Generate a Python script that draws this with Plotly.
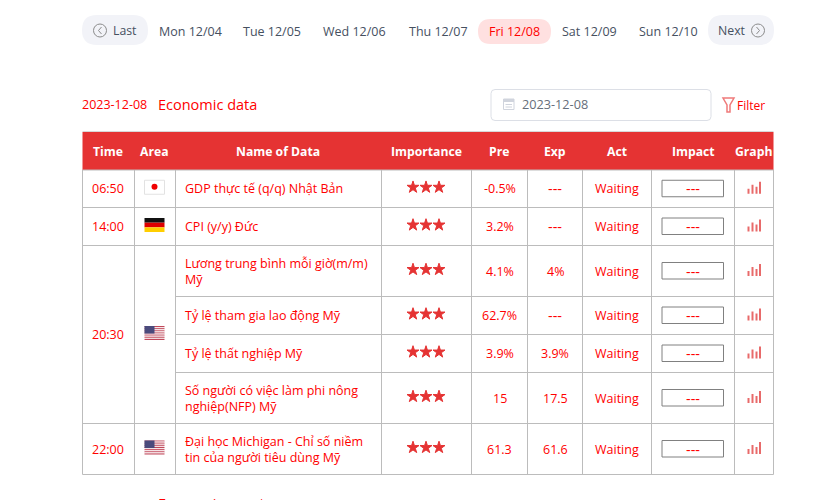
# lich kinh te - bang du lieu ngay 2023-12-08
import plotly.graph_objects as go

nav_days = ["Mon 12/04", "Tue 12/05", "Wed 12/06", "Thu 12/07", "Fri 12/08", "Sat 12/09", "Sun 12/10"]
headers = ["Time", "Area", "Name of Data", "Importance", "Pre", "Exp", "Act", "Impact", "Graph"]
time_labels = ["06:50", "14:00", "20:30", "22:00"]
time_spans = [1, 1, 4, 1]
area_flags = ["JP", "DE", "US", "US"]
names = ["GDP thực tế (q/q) Nhật Bản",
         "CPI (y/y) Đức",
         "Lương trung bình mỗi giờ(m/m)<br>Mỹ",
         "Tỷ lệ tham gia lao động Mỹ",
         "Tỷ lệ thất nghiệp Mỹ",
         "Số người có việc làm phi nông<br>nghiệp(NFP) Mỹ",
         "Đại học Michigan - Chỉ số niềm<br>tin của người tiêu dùng Mỹ"]
importance = [3, 3, 3, 3, 3, 3, 3]
pre = ["-0.5%", "3.2%", "4.1%", "62.7%", "3.9%", "15", "61.3"]
exp = ["---", "---", "4%", "---", "3.9%", "17.5", "61.6"]
act = ["Waiting", "Waiting", "Waiting", "Waiting", "Waiting", "Waiting", "Waiting"]
impact = ["---", "---", "---", "---", "---", "---", "---"]

# layout of the page, in screen pixels
col_edges = [82.5, 134.5, 175.5, 381.5, 471.5, 527.5, 582.5, 651.5, 734.5, 773.5]
row_edges = [170, 207.5, 245.5, 296.5, 334.5, 372.5, 423.5, 474.5]
nav_x = [190.3, 272, 354.5, 438.5, 514.5, 589.3, 668.3]
head_x = [107.5, 154, 277.5, 426.5, 499, 554.5, 617, 693, 753.5]
RED = "#ff0000"
HEAD = "#e53333"
GRID = "#bcbcbc"
NAV = "#46505f"
FONT = "Open Sans, Noto Sans, sans-serif"

fig = go.Figure()
shapes = []
notes = []


def text(x, y, s, color=RED, size=12.5, anchor="center", bold=False, valign="middle"):
    if bold:
        s = "<b>" + s + "</b>"
    notes.append(dict(x=x, y=y, text=s, showarrow=False, xanchor=anchor, yanchor=valign, align=anchor,
                      font=dict(family=FONT, size=size, color=color), borderpad=0))


def dash_or_text(x, y, s):
    # the dashes are wider in the reference font
    text(x, y, s, size=14.5 if s == "---" else 12.5)


def rect(x0, y0, x1, y1, fill=None, line=None, width=1):
    shapes.append(dict(type="rect", x0=x0, y0=y0, x1=x1, y1=y1, fillcolor=fill or "rgba(0,0,0,0)",
                       line=dict(color=line, width=width if line else 0)))


def rounded(x0, y0, x1, y1, r, fill=None, line=None):
    path = (f"M{x0+r},{y0} L{x1-r},{y0} Q{x1},{y0} {x1},{y0+r} L{x1},{y1-r} Q{x1},{y1} {x1-r},{y1} "
            f"L{x0+r},{y1} Q{x0},{y1} {x0},{y1-r} L{x0},{y0+r} Q{x0},{y0} {x0+r},{y0} Z")
    shapes.append(dict(type="path", path=path, fillcolor=fill or "rgba(0,0,0,0)",
                       line=dict(color=line, width=1 if line else 0)))


def seg(x0, y0, x1, y1, color=GRID, width=1):
    shapes.append(dict(type="line", x0=x0, y0=y0, x1=x1, y1=y1, line=dict(color=color, width=width)))


def flag(kind, cx, cy):
    x0, x1 = cx - 10, cx + 10
    y0, y1 = cy - 7, cy + 7
    if kind == "JP":
        rect(x0, y0, x1, y1, "#ffffff", "#e2e2e2")
        shapes.append(dict(type="circle", x0=cx-3, y0=cy-3.5, x1=cx+3, y1=cy+2.5, fillcolor="#f00000", line=dict(width=0)))
    elif kind == "DE":
        band = (y1 - y0) / 3
        for i, c in enumerate(["#111111", "#dd0000", "#ffce00"]):
            rect(x0, y0 + i * band, x1, y0 + (i + 1) * band, c)
    else:
        stripe = (y1 - y0) / 13
        for i in range(13):
            rect(x0, y0 + i * stripe, x1, y0 + (i + 1) * stripe, "#c0485a" if i % 2 == 0 else "#f6e6e8")
        rect(x0, y0, x0 + 10, y0 + 7 * stripe, "#4a4a7c")


# top navigation
rounded(82, 15, 148, 45, 15, "#f2f3f8")
rounded(708, 15, 774, 45, 15, "#f2f3f8")
rounded(478, 19, 551, 44, 12.5, "#ffe0e0")
for cx in (100, 758):
    shapes.append(dict(type="circle", x0=cx-6.5, y0=24, x1=cx+6.5, y1=37, line=dict(color="#8c8c8c", width=1)))
seg(101.5, 27, 98.5, 30.5, "#8c8c8c")
seg(98.5, 30.5, 101.5, 34, "#8c8c8c")
seg(756.5, 27, 759.5, 30.5, "#8c8c8c")
seg(759.5, 30.5, 756.5, 34, "#8c8c8c")
text(124.5, 30.5, "Last", NAV, 12.3)
text(732, 30.5, "Next", NAV, 12.3)
for x, d in zip(nav_x, nav_days):
    text(x, 31.5, d, RED if d == "Fri 12/08" else NAV, 12.5)

# title row
text(80.7, 104.5, "2023-12-08", RED, 12.5, "left")
text(156.7, 104, "Economic data", RED, 14.5, "left")
rounded(491, 89.5, 711, 120.5, 4, "#ffffff", "#dcdfe6")
rect(503.5, 99, 514, 109.5, None, "#d0d4dd")
rect(503.5, 99, 514, 102, "#d0d4dd")
for gy in (104.5, 107):
    seg(505.5, gy, 512, gy, "#d0d4dd")
text(521, 104, "2023-12-08", "#666e7a", 12.7, "left")
shapes.append(dict(type="path", path="M723,98 L734,98 L730,105 L730,112 L727,112 L727,105 Z",
                   fillcolor="rgba(0,0,0,0)", line=dict(color="#ef7a7a", width=1.5)))
text(736, 105, "Filter", RED, 12, "left")

# header band
seg(col_edges[0], 131.5, col_edges[-1], 131.5, "#d8d8d8")
rect(col_edges[0], 132, col_edges[-1], 170, HEAD)
for x, h in zip(head_x, headers):
    text(x, 151.5, h, "#ffffff", 12.2, bold=True)

# grid
for x in col_edges:
    seg(x, 170, x, row_edges[-1])
for j, y in enumerate(row_edges):
    seg(col_edges[2] if y in (296.5, 334.5, 372.5) else col_edges[0], y, col_edges[-1], y)

# time and area merged columns
start = 0
for label, span, area in zip(time_labels, time_spans, area_flags):
    cy = (row_edges[start] + row_edges[start + span]) / 2
    text((col_edges[0] + col_edges[1]) / 2 - 0.5, cy, label)
    flag(area, (col_edges[1] + col_edges[2]) / 2 - 0.5, cy - 1.5)
    start += span

# data rows
star_x = []
star_y = []
for r, name in enumerate(names):
    cy = (row_edges[r] + row_edges[r + 1]) / 2
    text(183.7, cy, name, anchor="left")
    for s in range(importance[r]):
        star_x.append(413 + s * 13)
        star_y.append(cy - 1.5)
    text(499.5, cy, pre[r])
    dash_or_text(555, cy, exp[r])
    text(617, cy, act[r])
    rect(662, cy - 8.5, 723.5, cy + 8, "#ffffff", "#808080")
    dash_or_text(693, cy, impact[r])
    for bx, top in zip([748.5, 752.5, 756.5, 760], [5, 9, 7, 12]):
        seg(bx, cy + 5, bx, cy + 5 - top, "#e86a6a", 2)

fig.add_trace(go.Scatter(x=star_x, y=star_y, mode="markers", hoverinfo="skip",
                         marker=dict(symbol="star", size=9, color=HEAD, line=dict(width=1, color=HEAD))))

# cut off by the bottom of the window
text(156.7, 492.5, "Economic event", RED, 14.5, "left", valign="top")

fig.update_layout(width=818, height=500, margin=dict(l=0, r=0, t=0, b=0), showlegend=False,
                  paper_bgcolor="white", plot_bgcolor="white", shapes=shapes, annotations=notes,
                  xaxis=dict(range=[0, 818], visible=False, fixedrange=True),
                  yaxis=dict(range=[500, 0], visible=False, fixedrange=True))
fig.write_html("out.html", config={"displayModeBar": False},
               post_script="document.body.style.margin='0';document.body.style.overflow='hidden';")
